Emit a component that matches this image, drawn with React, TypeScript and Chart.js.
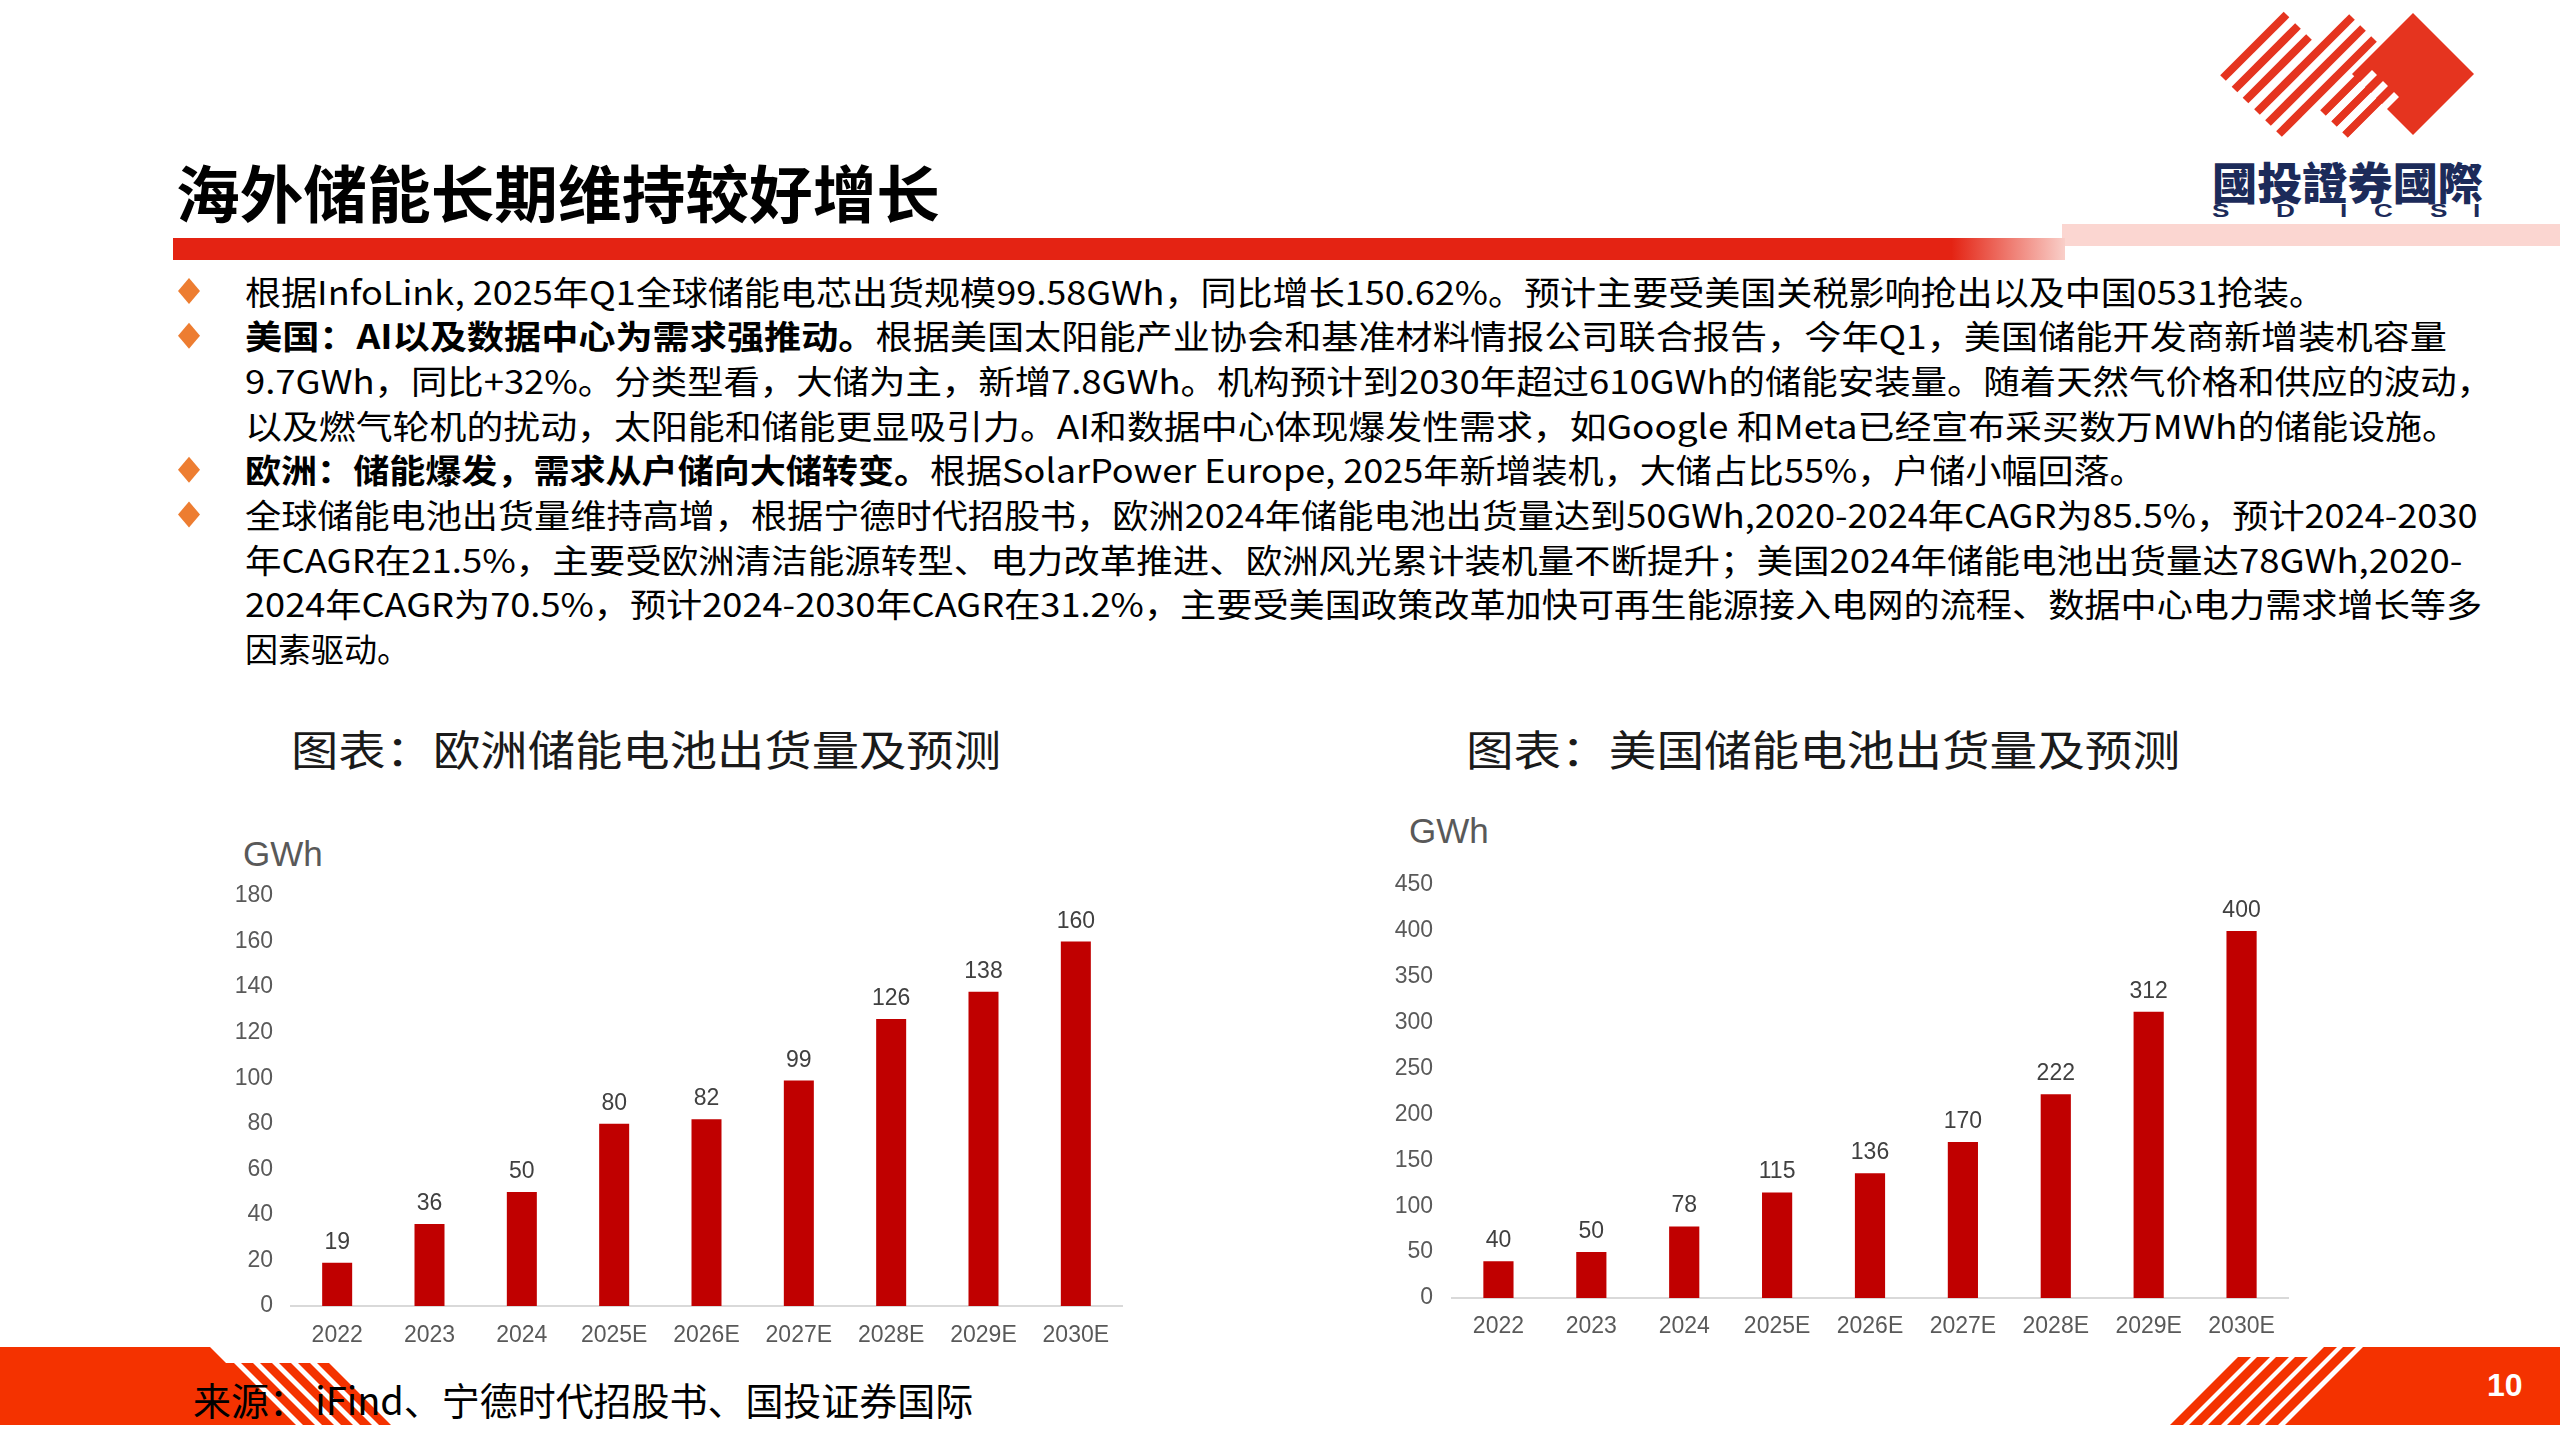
import React, { useEffect, useLayoutEffect, useRef } from 'react';
import { Chart, registerables } from 'chart.js';

Chart.register(...registerables);

// ---------- data ----------
const euCategories = ['2022', '2023', '2024', '2025E', '2026E', '2027E', '2028E', '2029E', '2030E'];
const euValues = [19, 36, 50, 80, 82, 99, 126, 138, 160];
const euYMax = 180;
const euYStep = 20;

const usCategories = ['2022', '2023', '2024', '2025E', '2026E', '2027E', '2028E', '2029E', '2030E'];
const usValues = [40, 50, 78, 115, 136, 170, 222, 312, 400];
const usYMax = 450;
const usYStep = 50;

const unitLabel = 'GWh';
const slideTitle = '海外储能长期维持较好增长';
const euChartTitle = '图表：欧洲储能电池出货量及预测';
const usChartTitle = '图表：美国储能电池出货量及预测';
const sourceText = '来源： iFind、宁德时代招股书、国投证券国际';
const pageNumber = '10';
const logoName = '國投證券國際';
const logoLetters = ['S', 'D', 'I', 'C', 'S', 'I'];

type Seg = { t: string; b?: boolean };
const textLines: Seg[][] = [
  [{ t: '根据InfoLink, 2025年Q1全球储能电芯出货规模99.58GWh，同比增长150.62%。预计主要受美国关税影响抢出以及中国0531抢装。' }],
  [{ t: '美国：AI以及数据中心为需求强推动。', b: true }, { t: '根据美国太阳能产业协会和基准材料情报公司联合报告，今年Q1，美国储能开发商新增装机容量' }],
  [{ t: '9.7GWh，同比+32%。分类型看，大储为主，新增7.8GWh。机构预计到2030年超过610GWh的储能安装量。随着天然气价格和供应的波动，' }],
  [{ t: '以及燃气轮机的扰动，太阳能和储能更显吸引力。AI和数据中心体现爆发性需求，如Google 和Meta已经宣布采买数万MWh的储能设施。' }],
  [{ t: '欧洲：储能爆发，需求从户储向大储转变。', b: true }, { t: '根据SolarPower Europe, 2025年新增装机，大储占比55%，户储小幅回落。' }],
  [{ t: '全球储能电池出货量维持高增，根据宁德时代招股书，欧洲2024年储能电池出货量达到50GWh,2020-2024年CAGR为85.5%，预计2024-2030' }],
  [{ t: '年CAGR在21.5%，主要受欧洲清洁能源转型、电力改革推进、欧洲风光累计装机量不断提升；美国2024年储能电池出货量达78GWh,2020-' }],
  [{ t: '2024年CAGR为70.5%，预计2024-2030年CAGR在31.2%，主要受美国政策改革加快可再生能源接入电网的流程、数据中心电力需求增长等多' }],
  [{ t: '因素驱动。' }],
];
const bulletRows = [0, 1, 4, 5];

// ---------- layout / style ----------
const CJK = '"Noto Sans CJK SC", "Noto Sans", sans-serif';
const TC = '"Noto Sans CJK TC", "Noto Sans CJK SC", sans-serif';
const ARIAL = '"Liberation Sans", Arial, sans-serif';
const lineRightEdges = [2325, 2447, 2493, 2459, 2146, 2478, 2462, 2482, 0];
const TEXT_LEFT = 245;
const LINE0_Y = 291;
const LINE_STEP = 44.7;

const RED_TITLE = '#e42313';
const RED_LOGO = '#e5341f';
const RED_FOOT = '#f43200';
const BAR_RED = '#c00000';
const NAVY = '#1c2b5a';

function FitText(props: {
  x: number; y: number; w?: number; h: number; size: number; weight?: number;
  color?: string; family?: string; spacing?: number; children: React.ReactNode;
}) {
  const { x, y, w, h, size, weight, color, family, spacing, children } = props;
  const ref = useRef<HTMLDivElement>(null);
  useLayoutEffect(() => {
    const el = ref.current;
    if (!el || !w) return;
    const fit = () => {
      const nat = el.offsetWidth;
      if (nat > 0) el.style.transform = `scaleX(${w / nat})`;
    };
    fit();
    const f = (document as any).fonts;
    if (f && f.ready) f.ready.then(fit);
  }, [w]);
  return (
    <div
      ref={ref}
      style={{
        position: 'absolute', left: x, top: y - h / 2, height: h, lineHeight: `${h}px`,
        fontSize: size, fontWeight: weight ?? 400, color: color ?? '#000',
        fontFamily: family ?? CJK, whiteSpace: 'nowrap', transformOrigin: '0 50%',
        letterSpacing: spacing ?? 0,
      }}
    >
      {children}
    </div>
  );
}

const valueLabelPlugin = {
  id: 'valueLabels',
  afterDatasetsDraw(chart: any) {
    const ctx = chart.ctx;
    const meta = chart.getDatasetMeta(0);
    const data = chart.data.datasets[0].data;
    ctx.save();
    ctx.fillStyle = '#404040';
    ctx.font = `23px ${ARIAL}`;
    ctx.textAlign = 'center';
    ctx.textBaseline = 'alphabetic';
    meta.data.forEach((bar: any, i: number) => {
      ctx.fillText(String(data[i]), bar.x, bar.y - 14);
    });
    ctx.restore();
  },
};

function BarChart(props: {
  labels: string[]; values: number[]; yMax: number; yStep: number;
  left: number; top: number; width: number; height: number;
  yAxisWidth: number; xAxisHeight: number; padTop: number; padRight: number;
  yTickPad: number; xTickPad: number;
}) {
  const p = props;
  const ref = useRef<HTMLCanvasElement>(null);
  useEffect(() => {
    if (!ref.current) return;
    const chart = new Chart(ref.current, {
      type: 'bar',
      data: {
        labels: p.labels,
        datasets: [{
          data: p.values, backgroundColor: BAR_RED, borderWidth: 0,
          barPercentage: 0.325, categoryPercentage: 1,
        }],
      },
      options: {
        animation: false, responsive: false, maintainAspectRatio: false, devicePixelRatio: 1,
        layout: { padding: { top: p.padTop, right: p.padRight, left: 0, bottom: 0 } },
        plugins: { legend: { display: false }, tooltip: { enabled: false }, title: { display: false } },
        scales: {
          x: {
            grid: { display: false, drawTicks: false },
            border: { display: true, color: '#d9d9d9', width: 2 },
            ticks: { color: '#595959', font: { family: ARIAL, size: 23 }, padding: p.xTickPad, maxRotation: 0, autoSkip: false },
            afterFit: (s: any) => { s.height = p.xAxisHeight; },
          },
          y: {
            min: 0, max: p.yMax,
            grid: { display: false, drawTicks: false },
            border: { display: false },
            ticks: { stepSize: p.yStep, color: '#595959', font: { family: ARIAL, size: 23 }, padding: p.yTickPad },
            afterFit: (s: any) => { s.width = p.yAxisWidth; },
          },
        },
      } as any,
      plugins: [valueLabelPlugin],
    });
    return () => chart.destroy();
  }, []);
  return (
    <canvas
      ref={ref}
      width={p.width}
      height={p.height}
      style={{ position: 'absolute', left: p.left, top: p.top, width: p.width, height: p.height }}
    />
  );
}

function stripe(c: number, d1: number, d2: number) {
  return { x1: (c + d1) / 2, y1: (c - d1) / 2, x2: (c + d2) / 2, y2: (c - d2) / 2 };
}

function Decor() {
  const groupA = [2301, 2324, 2346].map((c) => stripe(c, 2145, 2272));
  const groupB = [2369, 2391, 2413].map((c) => stripe(c, 2145, 2335));
  const groupC = [2436, 2458, 2480].map((c) => stripe(c, 2210, 2290));
  const gaps = [2447, 2469, 2491].map((c) => stripe(c, 2200, 2302));
  const leftStripes = [0, 1, 2, 3, 4, 5].map((i) => {
    const x = 222 + i * 19;
    return `${x},1363 ${x + 12},1363 ${x + 74},1425 ${x + 62},1425`;
  });
  const rightStripes = [0, 1, 2, 3, 4, 5].map((i) => {
    const bx = 2170 + i * 19;
    const topY = i >= 4 ? 1347 : 1357;
    const dy = 1425 - topY;
    return `${bx},1425 ${bx + 13},1425 ${bx + 13 + dy},${topY} ${bx + dy},${topY}`;
  });
  return (
    <svg width={2560} height={1440} style={{ position: 'absolute', left: 0, top: 0 }}>
      <defs>
        <linearGradient id="titleBar" x1="173" y1="0" x2="2065" y2="0" gradientUnits="userSpaceOnUse">
          <stop offset="0" stopColor={RED_TITLE} />
          <stop offset="0.94" stopColor={RED_TITLE} />
          <stop offset="1" stopColor="#f9cfc9" />
        </linearGradient>
      </defs>
      {/* title underline */}
      <rect x={2062} y={224} width={498} height={22} fill="#fbd6d1" />
      <rect x={173} y={238} width={1892} height={22} fill="url(#titleBar)" />
      {/* logo */}
      <polygon points="2413,13 2474,74 2413,135 2352,74" fill={RED_LOGO} />
      {[...groupA, ...groupB, ...groupC].map((l, i) => (
        <line key={'s' + i} {...l} stroke={RED_LOGO} strokeWidth={8} />
      ))}
      {gaps.map((l, i) => (
        <line key={'g' + i} {...l} stroke="#fff" strokeWidth={7} />
      ))}
      {/* bullets */}
      {bulletRows.map((r) => {
        const cy = LINE0_Y + r * LINE_STEP;
        return <polygon key={'b' + r} points={`189,${cy - 13} 200,${cy} 189,${cy + 13} 178,${cy}`} fill="#ed7d31" />;
      })}
      {/* footer left */}
      <polygon points="0,1347 210,1347 288,1425 0,1425" fill={RED_FOOT} />
      {leftStripes.map((pts, i) => <polygon key={'l' + i} points={pts} fill={RED_FOOT} />)}
      {/* footer right */}
      <polygon points="2363,1347 2560,1347 2560,1425 2285,1425" fill={RED_FOOT} />
      {rightStripes.map((pts, i) => <polygon key={'r' + i} points={pts} fill={RED_FOOT} />)}
    </svg>
  );
}

const letterXs = [2212, 2276, 2340, 2374, 2430, 2473];

export default function App() {
  return (
    <div
      style={{
        position: 'fixed', left: 0, top: 0, width: 2560, height: 1440,
        background: '#fff', overflow: 'hidden', fontFamily: CJK,
      }}
    >
      <Decor />

      {/* slide title */}
      <FitText x={176} y={191} w={764} h={70} size={62} weight={700}>{slideTitle}</FitText>

      {/* logo text */}
      <FitText x={2212} y={181} w={271} h={48} size={44} weight={900} color={NAVY} family={TC}>{logoName}</FitText>
      {logoLetters.map((ch, i) => (
        <div
          key={'lt' + i}
          style={{
            position: 'absolute', left: letterXs[i], top: 200, height: 22, lineHeight: '22px',
            fontSize: 18, fontWeight: 700, color: NAVY, fontFamily: ARIAL,
            transform: 'scaleX(1.45)', transformOrigin: '0 50%',
          }}
        >
          {ch}
        </div>
      ))}

      {/* bullet text */}
      {textLines.map((segs, i) => (
        <FitText
          key={'t' + i}
          x={TEXT_LEFT}
          y={LINE0_Y + i * LINE_STEP}
          w={lineRightEdges[i] ? lineRightEdges[i] - TEXT_LEFT : undefined}
          h={45}
          size={33}
        >
          {segs.map((s, j) => (
            <span key={j} style={{ fontWeight: s.b ? 700 : 400 }}>{s.t}</span>
          ))}
        </FitText>
      ))}

      {/* chart titles */}
      <FitText x={291} y={748} w={710} h={50} size={42} color="#1a1a1a">{euChartTitle}</FitText>
      <FitText x={1466} y={748} w={714} h={50} size={42} color="#1a1a1a">{usChartTitle}</FitText>

      {/* unit labels */}
      <div style={{ position: 'absolute', left: 243, top: 834, height: 40, lineHeight: '40px', fontSize: 35, color: '#595959', fontFamily: ARIAL }}>{unitLabel}</div>
      <div style={{ position: 'absolute', left: 1409, top: 811, height: 40, lineHeight: '40px', fontSize: 35, color: '#595959', fontFamily: ARIAL }}>{unitLabel}</div>

      <BarChart
        labels={euCategories} values={euValues} yMax={euYMax} yStep={euYStep}
        left={200} top={860} width={940} height={500}
        yAxisWidth={91} xAxisHeight={54} padTop={36} padRight={18}
        yTickPad={18} xTickPad={16}
      />
      <BarChart
        labels={usCategories} values={usValues} yMax={usYMax} yStep={usYStep}
        left={1360} top={850} width={960} height={500}
        yAxisWidth={92} xAxisHeight={52} padTop={35} padRight={32}
        yTickPad={19} xTickPad={15}
      />

      {/* footer */}
      <FitText x={193} y={1399} w={780} h={46} size={38}>{sourceText}</FitText>
      <div
        style={{
          position: 'absolute', left: 2487, top: 1366, height: 38, lineHeight: '38px',
          fontSize: 32, fontWeight: 700, color: '#fff', fontFamily: ARIAL,
        }}
      >
        {pageNumber}
      </div>
    </div>
  );
}
